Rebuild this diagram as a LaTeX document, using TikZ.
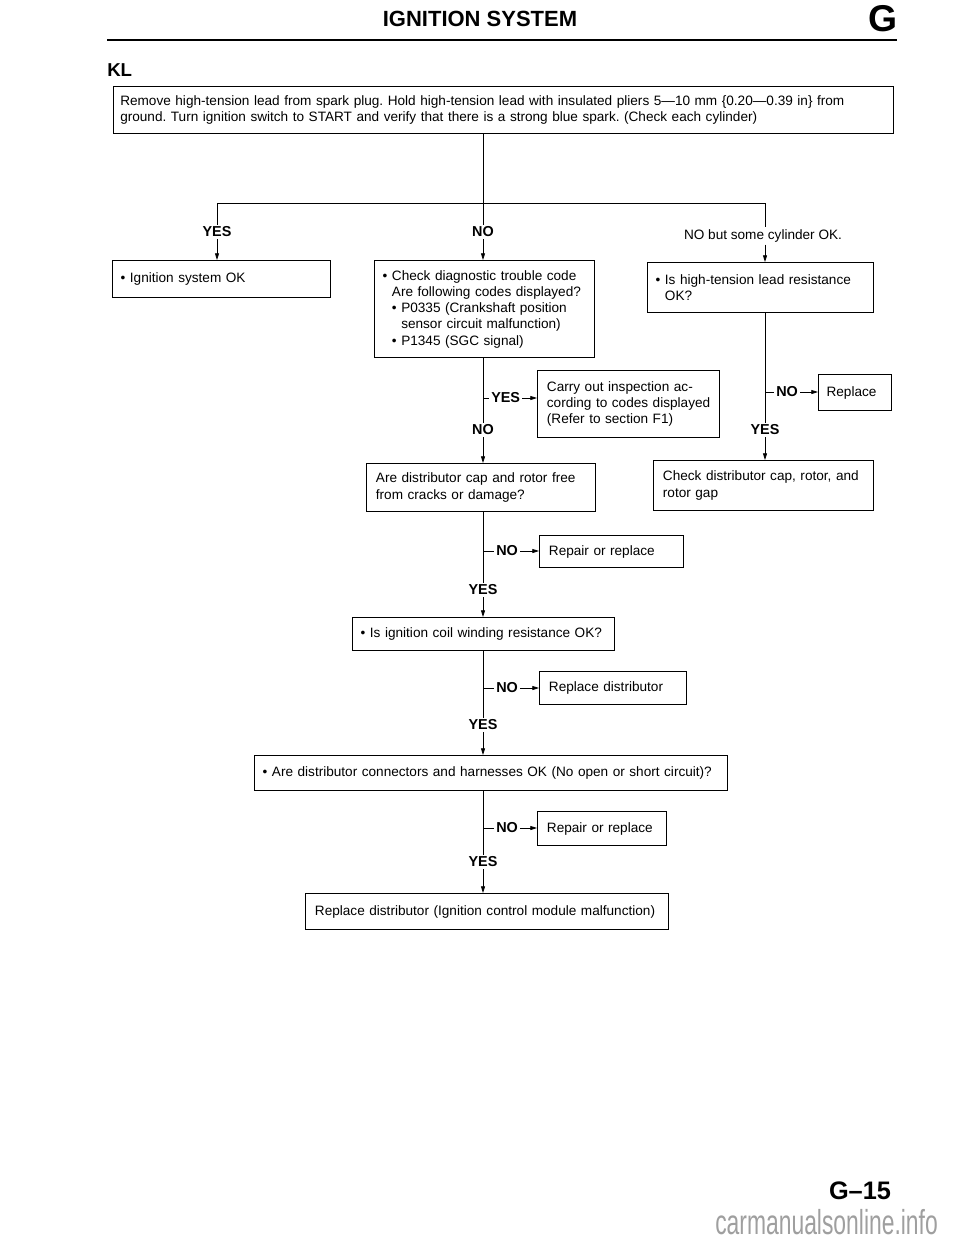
\documentclass[tikz,border=0pt]{standalone}
\usepackage{fontspec}
\setmainfont{Liberation Sans}
\usetikzlibrary{arrows.meta,calc}
\frenchspacing
\newcommand\bodyf{\fontsize{10.2}{12.2}\selectfont}
\newcommand\labf{\bfseries\fontsize{10.8}{12}\selectfont}
\newcommand\bi{\makebox[7pt][l]{\textbullet}}
\begin{document}
\begin{tikzpicture}[x=0.75pt,y=-0.75pt,
  box/.style={draw, line width=0.9pt, inner xsep=6pt, inner ysep=2pt, align=left, anchor=north west, font=\bodyf},
  lab/.style={font=\labf, inner sep=1.5pt},
  arr/.style={-{Triangle[length=5pt,width=3pt]}, line width=0.6pt},
  ln/.style={line width=0.6pt}]
\useasboundingbox (0,0) rectangle (960,1242);
% header
\node[font=\bfseries\fontsize{16.5}{18}\selectfont] (title) at (480,19) {IGNITION SYSTEM};
\node[font=\bfseries\fontsize{28}{30}\selectfont] (gletter) at (883,19) {G};
\coordinate (rl) at (107,40); \coordinate (rr) at (897,40);
\draw[line width=1.5pt] (rl) -- (rr);
\node[font=\bfseries\fontsize{14}{16}\selectfont, anchor=west, inner sep=0pt] (kl) at (107,70) {KL};
% boxes
\node[box, inner xsep=5pt, minimum width=585pt, minimum height=35.25pt, text width=575pt] (top) at (113,86)
 {Remove high-tension lead from spark plug. Hold high-tension lead with insulated pliers 5—10 mm \{0.20—0.39 in\} from\\ground. Turn ignition switch to START and verify that there is a strong blue spark. (Check each cylinder)};
\node[box, minimum width=163.5pt, minimum height=27.75pt, text width=151.5pt] (ok) at (112,260)
 {\bi Ignition system OK};
\node[box, minimum width=165pt, minimum height=72.75pt, text width=153pt] (dtc) at (374,260)
 {\bi Check diagnostic trouble code\\
  \hspace*{7pt}Are following codes displayed?\\
  \hspace*{7pt}\bi P0335 (Crankshaft position\\
  \hspace*{14pt}sensor circuit malfunction)\\
  \hspace*{7pt}\bi P1345 (SGC signal)};
\node[box, minimum width=169.5pt, minimum height=37.5pt, text width=157.5pt] (hts) at (647,262)
 {\bi Is high-tension lead resistance\\\hspace*{7pt}OK?};
\node[box, minimum width=136.5pt, minimum height=50.25pt, text width=122.5pt, inner xsep=7pt] (carry) at (537,370)
 {Carry out inspection ac-\\cording to codes displayed\\(Refer to section F1)};
\node[box, minimum width=54.75pt, minimum height=27pt, text width=42.75pt] (rpl) at (818,374)
 {Replace};
\node[box, minimum width=171.75pt, minimum height=36pt, text width=157.75pt, inner xsep=7pt] (cap) at (366,463)
 {Are distributor cap and rotor free\\from cracks or damage?};
\node[box, minimum width=165pt, minimum height=37.5pt, text width=151pt, inner xsep=7pt] (check) at (653,460)
 {Check distributor cap, rotor, and\\rotor gap};
\node[box, minimum width=108pt, minimum height=24pt, text width=94pt, inner xsep=7pt] (rep1) at (539,535)
 {Repair or replace};
\node[box, minimum width=196.5pt, minimum height=24.75pt, text width=184.5pt] (coil) at (352,617)
 {\bi Is ignition coil winding resistance OK?};
\node[box, minimum width=110.25pt, minimum height=24.75pt, text width=96.25pt, inner xsep=7pt] (repdist) at (539,671)
 {Replace distributor};
\node[box, minimum width=354.75pt, minimum height=26.25pt, text width=342.75pt] (conn) at (254,755)
 {\bi Are distributor connectors and harnesses OK (No open or short circuit)?};
\node[box, minimum width=96.75pt, minimum height=25.5pt, text width=82.75pt, inner xsep=7pt] (rep2) at (537,811)
 {Repair or replace};
\node[box, minimum width=272.25pt, minimum height=27pt, text width=258.25pt, inner xsep=7pt] (final) at (305,893)
 {Replace distributor (Ignition control module malfunction)};
% top branching
\coordinate (t) at (483,203); \coordinate (tl) at (217,203); \coordinate (tr) at (765,203);
\node[lab] (yes0) at (217,232) {YES};
\node[lab] (no0) at (483,232) {NO};
\node[font=\bodyf, inner sep=1.5pt] (nbs) at (763,236) {NO but some cylinder OK.};
\draw[ln] (top.south -| t) -- (t);
\draw[ln] (tl) -- (tr);
\draw[ln] (tl) -- (yes0.north);
\draw[ln] (t) -- (no0.north);
\draw[ln] (tr) -- (nbs.north -| tr);
\draw[arr] (yes0.south) -- (ok.north -| yes0);
\draw[arr] (no0.south) -- (dtc.north -| no0);
\draw[arr] (nbs.south -| tr) -- (hts.north -| tr);
% dtc branch
\coordinate (j1) at (483,398);
\node[lab, anchor=west] (y1) at (489,398) {YES};
\node[lab] (n1) at (483,430) {NO};
\draw[ln] (dtc.south -| n1) -- (n1.north);
\draw[ln] (j1) -- (y1.west);
\draw[arr] (y1.east) -- (y1.east -| carry.west);
\draw[arr] (n1.south) -- (cap.north -| n1);
% hts branch
\coordinate (j2) at (765,392);
\node[lab, anchor=west] (n2) at (774,392) {NO};
\node[lab] (y2) at (765,430) {YES};
\draw[ln] (hts.south -| y2) -- (y2.north);
\draw[ln] (j2) -- (n2.west);
\draw[arr] (n2.east) -- (n2.east -| rpl.west);
\draw[arr] (y2.south) -- (check.north -| y2);
% cap branch
\coordinate (j3) at (483,551);
\node[lab, anchor=west] (n3) at (494,551) {NO};
\node[lab] (y3) at (483,590) {YES};
\draw[ln] (cap.south -| y3) -- (y3.north);
\draw[ln] (j3) -- (n3.west);
\draw[arr] (n3.east) -- (n3.east -| rep1.west);
\draw[arr] (y3.south) -- (coil.north -| y3);
% coil branch
\coordinate (j4) at (483,688);
\node[lab, anchor=west] (n4) at (494,688) {NO};
\node[lab] (y4) at (483,725) {YES};
\draw[ln] (coil.south -| y4) -- (y4.north);
\draw[ln] (j4) -- (n4.west);
\draw[arr] (n4.east) -- (n4.east -| repdist.west);
\draw[arr] (y4.south) -- (conn.north -| y4);
% conn branch
\coordinate (j5) at (483,828);
\node[lab, anchor=west] (n5) at (494,828) {NO};
\node[lab] (y5) at (483,862) {YES};
\draw[ln] (conn.south -| y5) -- (y5.north);
\draw[ln] (j5) -- (n5.west);
\draw[arr] (n5.east) -- (n5.east -| rep2.west);
\draw[arr] (y5.south) -- (final.north -| y5);
% footer
\node[font=\bfseries\fontsize{19}{21}\selectfont] (page) at (860,1191) {G–15};
\node[text=gray!75, font=\fontsize{26}{28}\selectfont, xscale=0.66, anchor=east, inner sep=0pt] (wm) at (938,1222) {carmanualsonline.info};
\end{tikzpicture}
\end{document}
